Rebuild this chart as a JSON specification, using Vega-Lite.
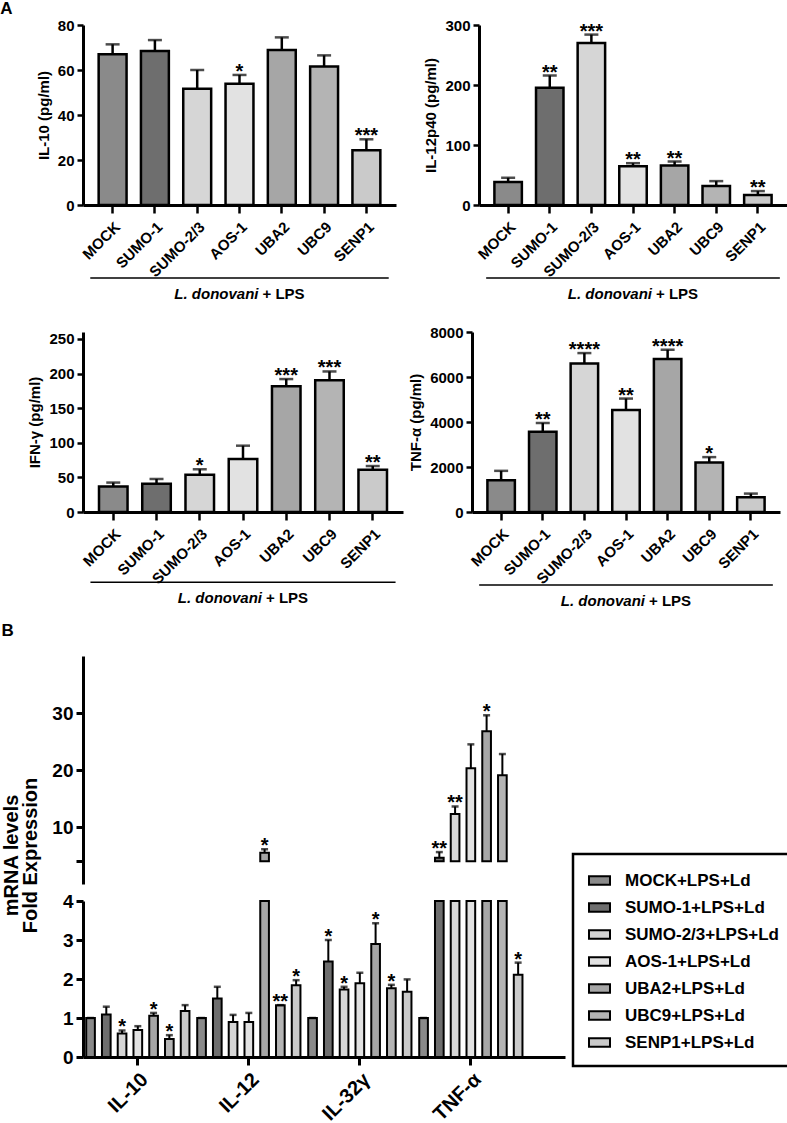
{
  "$schema": "https://vega.github.io/schema/vega-lite/v6.json",
  "background": "white",
  "padding": 0,
  "config": {
    "font": "Liberation Sans",
    "view": {"stroke": null},
    "axis": {"domainColor": "black", "domainWidth": 3, "tickColor": "black", "tickWidth": 2.5, "tickSize": 6, "labelColor": "black", "labelFontWeight": "bold", "labelFontSize": 15, "labelFont": "Liberation Sans", "titleFont": "Liberation Sans", "titleFontWeight": "bold", "titleFontSize": 15, "titleColor": "black", "grid": false, "labelPadding": 3, "titlePadding": 6, "labelOverlap": false},
    "axisX": {"tickSize": 8, "labelPadding": 6},
    "title": {"font": "Liberation Sans", "fontWeight": "bold", "color": "black"},
    "legend": {"strokeWidth": 2.5}
  },
  "datasets": {
    "a": [
      {"panel": "IL-10", "grp": "MOCK", "value": 67, "hi": 71.4, "sig": ""},
      {"panel": "IL-10", "grp": "SUMO-1", "value": 68.4, "hi": 73.3, "sig": ""},
      {"panel": "IL-10", "grp": "SUMO-2/3", "value": 51.7, "hi": 60, "sig": ""},
      {"panel": "IL-10", "grp": "AOS-1", "value": 53.9, "hi": 57.8, "sig": "*"},
      {"panel": "IL-10", "grp": "UBA2", "value": 68.9, "hi": 74.5, "sig": ""},
      {"panel": "IL-10", "grp": "UBC9", "value": 61.6, "hi": 66.5, "sig": ""},
      {"panel": "IL-10", "grp": "SENP1", "value": 24.3, "hi": 29.2, "sig": "***"},
      {"panel": "IL-12p40", "grp": "MOCK", "value": 38.2, "hi": 45.4, "sig": ""},
      {"panel": "IL-12p40", "grp": "SUMO-1", "value": 195.4, "hi": 215.8, "sig": "**"},
      {"panel": "IL-12p40", "grp": "SUMO-2/3", "value": 270, "hi": 284, "sig": "***"},
      {"panel": "IL-12p40", "grp": "AOS-1", "value": 64.7, "hi": 69.7, "sig": "**"},
      {"panel": "IL-12p40", "grp": "UBA2", "value": 65.9, "hi": 72.5, "sig": "**"},
      {"panel": "IL-12p40", "grp": "UBC9", "value": 31.5, "hi": 39.8, "sig": ""},
      {"panel": "IL-12p40", "grp": "SENP1", "value": 16.6, "hi": 23.2, "sig": "**"},
      {"panel": "IFN", "grp": "MOCK", "value": 36.9, "hi": 42.5, "sig": ""},
      {"panel": "IFN", "grp": "SUMO-1", "value": 40.7, "hi": 47.7, "sig": ""},
      {"panel": "IFN", "grp": "SUMO-2/3", "value": 53.7, "hi": 61.7, "sig": "*"},
      {"panel": "IFN", "grp": "AOS-1", "value": 76.6, "hi": 95.8, "sig": ""},
      {"panel": "IFN", "grp": "UBA2", "value": 181.8, "hi": 192, "sig": "***"},
      {"panel": "IFN", "grp": "UBC9", "value": 190.2, "hi": 203, "sig": "***"},
      {"panel": "IFN", "grp": "SENP1", "value": 61.2, "hi": 66.4, "sig": "**"},
      {"panel": "TNF", "grp": "MOCK", "value": 1413, "hi": 1829, "sig": ""},
      {"panel": "TNF", "grp": "SUMO-1", "value": 3569, "hi": 3955, "sig": "**"},
      {"panel": "TNF", "grp": "SUMO-2/3", "value": 6602, "hi": 7063, "sig": "****"},
      {"panel": "TNF", "grp": "AOS-1", "value": 4535, "hi": 5041, "sig": "**"},
      {"panel": "TNF", "grp": "UBA2", "value": 6796, "hi": 7212, "sig": "****"},
      {"panel": "TNF", "grp": "UBC9", "value": 2201, "hi": 2439, "sig": "*"},
      {"panel": "TNF", "grp": "SENP1", "value": 654, "hi": 818, "sig": ""}
    ],
    "b": [
      {"gene": "IL-10", "grp": "MOCK", "value": 1, "hi": 1, "sig": ""},
      {"gene": "IL-10", "grp": "SUMO-1", "value": 1.09, "hi": 1.29, "sig": ""},
      {"gene": "IL-10", "grp": "SUMO-2/3", "value": 0.6, "hi": 0.68, "sig": "*"},
      {"gene": "IL-10", "grp": "AOS-1", "value": 0.69, "hi": 0.79, "sig": ""},
      {"gene": "IL-10", "grp": "UBA2", "value": 1.06, "hi": 1.13, "sig": "*"},
      {"gene": "IL-10", "grp": "UBC9", "value": 0.46, "hi": 0.56, "sig": "*"},
      {"gene": "IL-10", "grp": "SENP1", "value": 1.18, "hi": 1.33, "sig": ""},
      {"gene": "IL-12", "grp": "MOCK", "value": 1, "hi": 1, "sig": ""},
      {"gene": "IL-12", "grp": "SUMO-1", "value": 1.5, "hi": 1.8, "sig": ""},
      {"gene": "IL-12", "grp": "SUMO-2/3", "value": 0.9, "hi": 1.08, "sig": ""},
      {"gene": "IL-12", "grp": "AOS-1", "value": 0.9, "hi": 1.13, "sig": ""},
      {"gene": "IL-12", "grp": "UBA2", "value": 5.5, "hi": 6.1, "sig": "*"},
      {"gene": "IL-12", "grp": "UBC9", "value": 1.33, "hi": 1.33, "sig": "**"},
      {"gene": "IL-12", "grp": "SENP1", "value": 1.84, "hi": 1.97, "sig": "*"},
      {"gene": "IL-32γ", "grp": "MOCK", "value": 1, "hi": 1, "sig": ""},
      {"gene": "IL-32γ", "grp": "SUMO-1", "value": 2.45, "hi": 3.0, "sig": "*"},
      {"gene": "IL-32γ", "grp": "SUMO-2/3", "value": 1.73, "hi": 1.8, "sig": "*"},
      {"gene": "IL-32γ", "grp": "AOS-1", "value": 1.89, "hi": 2.16, "sig": ""},
      {"gene": "IL-32γ", "grp": "UBA2", "value": 2.9, "hi": 3.43, "sig": "*"},
      {"gene": "IL-32γ", "grp": "UBC9", "value": 1.76, "hi": 1.85, "sig": "*"},
      {"gene": "IL-32γ", "grp": "SENP1", "value": 1.67, "hi": 1.99, "sig": ""},
      {"gene": "TNF-α", "grp": "MOCK", "value": 1, "hi": 1, "sig": ""},
      {"gene": "TNF-α", "grp": "SUMO-1", "value": 4.6, "hi": 5.6, "sig": "**"},
      {"gene": "TNF-α", "grp": "SUMO-2/3", "value": 12.3, "hi": 13.6, "sig": "**"},
      {"gene": "TNF-α", "grp": "AOS-1", "value": 20.3, "hi": 24.5, "sig": ""},
      {"gene": "TNF-α", "grp": "UBA2", "value": 26.8, "hi": 29.6, "sig": "*"},
      {"gene": "TNF-α", "grp": "UBC9", "value": 19.1, "hi": 22.8, "sig": ""},
      {"gene": "TNF-α", "grp": "SENP1", "value": 2.11, "hi": 2.42, "sig": "*"}
    ]
  },
  "vconcat": [
    {
      "vconcat": [
        {
          "hconcat": [
            {
              "width": 313, "height": 180,
              "title": {"text": "A", "anchor": "start", "frame": "bounds", "fontSize": 17, "offset": 0, "dx": -36},
              "layer": [
                {
                  "data": {"name": "a"},
                  "transform": [{"filter": "datum.panel == 'IL-10'"}],
                  "encoding": {"x": {"field": "grp", "type": "nominal", "sort": ["MOCK", "SUMO-1", "SUMO-2/3", "AOS-1", "UBA2", "UBC9", "SENP1"], "scale": {"paddingInner": 0.34, "paddingOuter": 0.37}, "axis": {"title": null, "labelAngle": -45}}},
                  "layer": [
                    {"mark": {"type": "bar", "stroke": "black", "strokeWidth": 2.5},
                     "encoding": {"y": {"field": "value", "type": "quantitative", "scale": {"domain": [0, 80]}, "axis": {"values": [0, 20, 40, 60, 80], "labelOverlap": false, "title": "IL-10 (pg/ml)"}},
                                  "fill": {"field": "grp", "type": "nominal", "scale": {"domain": ["MOCK", "SUMO-1", "SUMO-2/3", "AOS-1", "UBA2", "UBC9", "SENP1"], "range": ["#8a8a8a", "#6e6e6e", "#d6d6d6", "#e2e2e2", "#a6a6a6", "#b4b4b4", "#cacaca"]}}}},
                    {"mark": {"type": "rule", "color": "black", "strokeWidth": 2.5}, "encoding": {"y": {"field": "value", "type": "quantitative"}, "y2": {"field": "hi"}}},
                    {"mark": {"type": "tick", "color": "black", "thickness": 2.5, "size": 14}, "encoding": {"y": {"field": "hi", "type": "quantitative"}}},
                    {"mark": {"type": "text", "fontSize": 20, "fontWeight": "bold", "baseline": "alphabetic", "dy": 3}, "encoding": {"y": {"field": "hi", "type": "quantitative"}, "text": {"field": "sig"}}}
                  ]
                },
                {"data": {"values": [{"k": 1}]}, "mark": {"type": "rule", "color": "black", "strokeWidth": 1.5}, "encoding": {"x": {"datum": "MOCK", "bandPosition": -0.3}, "x2": {"datum": "SENP1", "bandPosition": 1.3}, "y": {"datum": -32.4, "axis": {"values": [0, 20, 40, 60, 80], "labelOverlap": false, "title": "IL-10 (pg/ml)"}}}},
                {"data": {"values": [{"k": 1}]}, "mark": {"type": "text", "fontSize": 15, "fontWeight": "bold", "fontStyle": "italic", "align": "right", "baseline": "middle", "dx": 19}, "encoding": {"x": {"datum": "AOS-1"}, "y": {"datum": -39.6, "axis": {"values": [0, 20, 40, 60, 80], "labelOverlap": false, "title": "IL-10 (pg/ml)"}}, "text": {"value": "L. donovani"}}},
                {"data": {"values": [{"k": 1}]}, "mark": {"type": "text", "fontSize": 15, "fontWeight": "bold", "align": "left", "baseline": "middle", "dx": 23}, "encoding": {"x": {"datum": "AOS-1"}, "y": {"datum": -39.6, "axis": {"values": [0, 20, 40, 60, 80], "labelOverlap": false, "title": "IL-10 (pg/ml)"}}, "text": {"value": "+ LPS"}}}
              ]
            },
            {
              "width": 308, "height": 180,
              "layer": [
                {
                  "data": {"name": "a"},
                  "transform": [{"filter": "datum.panel == 'IL-12p40'"}],
                  "encoding": {"x": {"field": "grp", "type": "nominal", "sort": ["MOCK", "SUMO-1", "SUMO-2/3", "AOS-1", "UBA2", "UBC9", "SENP1"], "scale": {"paddingInner": 0.34, "paddingOuter": 0.37}, "axis": {"title": null, "labelAngle": -45}}},
                  "layer": [
                    {"mark": {"type": "bar", "stroke": "black", "strokeWidth": 2.5},
                     "encoding": {"y": {"field": "value", "type": "quantitative", "scale": {"domain": [0, 300]}, "axis": {"values": [0, 100, 200, 300], "labelOverlap": false, "title": "IL-12p40 (pg/ml)"}},
                                  "fill": {"field": "grp", "type": "nominal", "scale": {"domain": ["MOCK", "SUMO-1", "SUMO-2/3", "AOS-1", "UBA2", "UBC9", "SENP1"], "range": ["#8a8a8a", "#6e6e6e", "#d6d6d6", "#e2e2e2", "#a6a6a6", "#b4b4b4", "#cacaca"]}}}},
                    {"mark": {"type": "rule", "color": "black", "strokeWidth": 2.5}, "encoding": {"y": {"field": "value", "type": "quantitative"}, "y2": {"field": "hi"}}},
                    {"mark": {"type": "tick", "color": "black", "thickness": 2.5, "size": 14}, "encoding": {"y": {"field": "hi", "type": "quantitative"}}},
                    {"mark": {"type": "text", "fontSize": 20, "fontWeight": "bold", "baseline": "alphabetic", "dy": 3}, "encoding": {"y": {"field": "hi", "type": "quantitative"}, "text": {"field": "sig"}}}
                  ]
                },
                {"data": {"values": [{"k": 1}]}, "mark": {"type": "rule", "color": "black", "strokeWidth": 1.5}, "encoding": {"x": {"datum": "MOCK", "bandPosition": -0.3}, "x2": {"datum": "SENP1", "bandPosition": 1.3}, "y": {"datum": -121.7, "axis": {"values": [0, 100, 200, 300], "labelOverlap": false, "title": "IL-12p40 (pg/ml)"}}}},
                {"data": {"values": [{"k": 1}]}, "mark": {"type": "text", "fontSize": 15, "fontWeight": "bold", "fontStyle": "italic", "align": "right", "baseline": "middle", "dx": 19}, "encoding": {"x": {"datum": "AOS-1"}, "y": {"datum": -148.3, "axis": {"values": [0, 100, 200, 300], "labelOverlap": false, "title": "IL-12p40 (pg/ml)"}}, "text": {"value": "L. donovani"}}},
                {"data": {"values": [{"k": 1}]}, "mark": {"type": "text", "fontSize": 15, "fontWeight": "bold", "align": "left", "baseline": "middle", "dx": 23}, "encoding": {"x": {"datum": "AOS-1"}, "y": {"datum": -148.3, "axis": {"values": [0, 100, 200, 300], "labelOverlap": false, "title": "IL-12p40 (pg/ml)"}}, "text": {"value": "+ LPS"}}}
              ]
            }
          ],
          "spacing": 27
        },
        {
          "hconcat": [
            {
              "width": 320, "height": 180,
              "layer": [
                {
                  "data": {"name": "a"},
                  "transform": [{"filter": "datum.panel == 'IFN'"}],
                  "encoding": {"x": {"field": "grp", "type": "nominal", "sort": ["MOCK", "SUMO-1", "SUMO-2/3", "AOS-1", "UBA2", "UBC9", "SENP1"], "scale": {"paddingInner": 0.34, "paddingOuter": 0.37}, "axis": {"title": null, "labelAngle": -45}}},
                  "layer": [
                    {"mark": {"type": "bar", "stroke": "black", "strokeWidth": 2.5},
                     "encoding": {"y": {"field": "value", "type": "quantitative", "scale": {"domain": [0, 250]}, "axis": {"values": [0, 50, 100, 150, 200, 250], "labelOverlap": false, "tickCount": 6, "title": "IFN-γ (pg/ml)"}},
                                  "fill": {"field": "grp", "type": "nominal", "scale": {"domain": ["MOCK", "SUMO-1", "SUMO-2/3", "AOS-1", "UBA2", "UBC9", "SENP1"], "range": ["#8a8a8a", "#6e6e6e", "#d6d6d6", "#e2e2e2", "#a6a6a6", "#b4b4b4", "#cacaca"]}}}},
                    {"mark": {"type": "rule", "color": "black", "strokeWidth": 2.5}, "encoding": {"y": {"field": "value", "type": "quantitative"}, "y2": {"field": "hi"}}},
                    {"mark": {"type": "tick", "color": "black", "thickness": 2.5, "size": 14}, "encoding": {"y": {"field": "hi", "type": "quantitative"}}},
                    {"mark": {"type": "text", "fontSize": 20, "fontWeight": "bold", "baseline": "alphabetic", "dy": 3}, "encoding": {"y": {"field": "hi", "type": "quantitative"}, "text": {"field": "sig"}}}
                  ]
                },
                {"data": {"values": [{"k": 1}]}, "mark": {"type": "rule", "color": "black", "strokeWidth": 1.5}, "encoding": {"x": {"datum": "MOCK", "bandPosition": -0.3}, "x2": {"datum": "SENP1", "bandPosition": 1.3}, "y": {"datum": -101.4, "axis": {"values": [0, 50, 100, 150, 200, 250], "labelOverlap": false, "tickCount": 6, "title": "IFN-γ (pg/ml)"}}}},
                {"data": {"values": [{"k": 1}]}, "mark": {"type": "text", "fontSize": 15, "fontWeight": "bold", "fontStyle": "italic", "align": "right", "baseline": "middle", "dx": 19}, "encoding": {"x": {"datum": "AOS-1"}, "y": {"datum": -123.6, "axis": {"values": [0, 50, 100, 150, 200, 250], "labelOverlap": false, "tickCount": 6, "title": "IFN-γ (pg/ml)"}}, "text": {"value": "L. donovani"}}},
                {"data": {"values": [{"k": 1}]}, "mark": {"type": "text", "fontSize": 15, "fontWeight": "bold", "align": "left", "baseline": "middle", "dx": 23}, "encoding": {"x": {"datum": "AOS-1"}, "y": {"datum": -123.6, "axis": {"values": [0, 50, 100, 150, 200, 250], "labelOverlap": false, "tickCount": 6, "title": "IFN-γ (pg/ml)"}}, "text": {"value": "+ LPS"}}}
              ]
            },
            {
              "width": 308, "height": 180,
              "layer": [
                {
                  "data": {"name": "a"},
                  "transform": [{"filter": "datum.panel == 'TNF'"}],
                  "encoding": {"x": {"field": "grp", "type": "nominal", "sort": ["MOCK", "SUMO-1", "SUMO-2/3", "AOS-1", "UBA2", "UBC9", "SENP1"], "scale": {"paddingInner": 0.34, "paddingOuter": 0.37}, "axis": {"title": null, "labelAngle": -45}}},
                  "layer": [
                    {"mark": {"type": "bar", "stroke": "black", "strokeWidth": 2.5},
                     "encoding": {"y": {"field": "value", "type": "quantitative", "scale": {"domain": [0, 8000]}, "axis": {"values": [0, 2000, 4000, 6000, 8000], "labelOverlap": false, "format": "d", "title": "TNF-α (pg/ml)"}},
                                  "fill": {"field": "grp", "type": "nominal", "scale": {"domain": ["MOCK", "SUMO-1", "SUMO-2/3", "AOS-1", "UBA2", "UBC9", "SENP1"], "range": ["#8a8a8a", "#6e6e6e", "#d6d6d6", "#e2e2e2", "#a6a6a6", "#b4b4b4", "#cacaca"]}}}},
                    {"mark": {"type": "rule", "color": "black", "strokeWidth": 2.5}, "encoding": {"y": {"field": "value", "type": "quantitative"}, "y2": {"field": "hi"}}},
                    {"mark": {"type": "tick", "color": "black", "thickness": 2.5, "size": 14}, "encoding": {"y": {"field": "hi", "type": "quantitative"}}},
                    {"mark": {"type": "text", "fontSize": 20, "fontWeight": "bold", "baseline": "alphabetic", "dy": 3}, "encoding": {"y": {"field": "hi", "type": "quantitative"}, "text": {"field": "sig"}}}
                  ]
                },
                {"data": {"values": [{"k": 1}]}, "mark": {"type": "rule", "color": "black", "strokeWidth": 1.5}, "encoding": {"x": {"datum": "MOCK", "bandPosition": -0.3}, "x2": {"datum": "SENP1", "bandPosition": 1.3}, "y": {"datum": -3244, "axis": {"values": [0, 2000, 4000, 6000, 8000], "labelOverlap": false, "format": "d", "title": "TNF-α (pg/ml)"}}}},
                {"data": {"values": [{"k": 1}]}, "mark": {"type": "text", "fontSize": 15, "fontWeight": "bold", "fontStyle": "italic", "align": "right", "baseline": "middle", "dx": 19}, "encoding": {"x": {"datum": "AOS-1"}, "y": {"datum": -3956, "axis": {"values": [0, 2000, 4000, 6000, 8000], "labelOverlap": false, "format": "d", "title": "TNF-α (pg/ml)"}}, "text": {"value": "L. donovani"}}},
                {"data": {"values": [{"k": 1}]}, "mark": {"type": "text", "fontSize": 15, "fontWeight": "bold", "align": "left", "baseline": "middle", "dx": 23}, "encoding": {"x": {"datum": "AOS-1"}, "y": {"datum": -3956, "axis": {"values": [0, 2000, 4000, 6000, 8000], "labelOverlap": false, "format": "d", "title": "TNF-α (pg/ml)"}}, "text": {"value": "+ LPS"}}}
              ]
            }
          ],
          "spacing": 5
        }
      ],
      "spacing": 22
    },
    {
      "width": 482, "height": 401,
      "title": {"text": "B", "anchor": "start", "frame": "bounds", "fontSize": 17, "offset": 16, "dx": 0},
      "data": {"name": "b"},
      "encoding": {
        "x": {"field": "gene", "type": "nominal", "sort": ["IL-10", "IL-12", "IL-32γ", "TNF-α"], "scale": {"paddingInner": 0.07, "paddingOuter": 0.206, "align": 0.07}, "axis": {"title": null, "labelAngle": -45, "labelFontSize": 20, "tickSize": 8, "tickWidth": 3, "domainWidth": 3, "labelPadding": 4}},
        "xOffset": {"field": "grp", "type": "nominal", "sort": ["MOCK", "SUMO-1", "SUMO-2/3", "AOS-1", "UBA2", "UBC9", "SENP1"], "scale": {"paddingInner": 0.45}}
      },
      "layer": [
        {
          "layer": [
            {"mark": {"type": "bar", "stroke": "black", "strokeWidth": 2},
             "encoding": {
               "y": {"field": "value", "type": "quantitative", "scale": {"domain": [0, 4], "range": [401, 245], "clamp": true}, "axis": {"values": [0, 1, 2, 3, 4], "format": "d", "labelFontSize": 19, "title": ["mRNA levels", "Fold Expression"], "titleFontSize": 20, "titleLineHeight": 19, "titleY": 199, "titlePadding": 22, "domainWidth": 3, "tickWidth": 3, "tickSize": 7}},
               "fill": {"field": "grp", "type": "nominal", "scale": {"domain": ["MOCK", "SUMO-1", "SUMO-2/3", "AOS-1", "UBA2", "UBC9", "SENP1"], "range": ["#8a8a8a", "#6e6e6e", "#d6d6d6", "#e2e2e2", "#a6a6a6", "#b4b4b4", "#cacaca"]},
                        "legend": {"orient": "none", "legendX": 490, "legendY": 829, "title": null, "strokeColor": "black", "padding": 15, "rowPadding": 7, "symbolType": "M-1,-0.4H1V0.4H-1Z", "symbolSize": 441, "symbolStrokeColor": "black", "symbolStrokeWidth": 2, "symbolOpacity": 1, "labelFontSize": 17, "labelFontWeight": "bold", "labelColor": "black", "labelOffset": 14, "labelExpr": "datum.label + '+LPS+Ld'"}}
             }},
            {"transform": [{"filter": "datum.hi <= 4"}], "mark": {"type": "rule", "color": "black", "strokeWidth": 2}, "encoding": {"y": {"field": "value", "type": "quantitative"}, "y2": {"field": "hi"}}},
            {"transform": [{"filter": "datum.hi <= 4"}], "mark": {"type": "tick", "color": "black", "thickness": 2.5, "size": 7}, "encoding": {"y": {"field": "hi", "type": "quantitative"}}},
            {"transform": [{"filter": "datum.hi <= 4"}], "mark": {"type": "text", "fontSize": 20, "fontWeight": "bold", "baseline": "alphabetic", "dy": 3}, "encoding": {"y": {"field": "hi", "type": "quantitative"}, "text": {"field": "sig"}}}
          ]
        },
        {
          "transform": [{"filter": "datum.value > 4"}],
          "layer": [
            {"mark": {"type": "bar", "stroke": "black", "strokeWidth": 2},
             "encoding": {
               "y": {"field": "value", "type": "quantitative", "scale": {"domain": [4, 35.4], "range": [228, 0]}, "axis": {"orient": "left", "values": [4, 10, 20, 30], "labelExpr": "datum.value == 4 ? '' : datum.label", "labelFontSize": 19, "title": null, "domainWidth": 3, "tickWidth": 3, "tickSize": 7}},
               "y2": {"datum": 4},
               "fill": {"field": "grp", "type": "nominal", "scale": {"domain": ["MOCK", "SUMO-1", "SUMO-2/3", "AOS-1", "UBA2", "UBC9", "SENP1"], "range": ["#8a8a8a", "#6e6e6e", "#d6d6d6", "#e2e2e2", "#a6a6a6", "#b4b4b4", "#cacaca"]}}
             }},
            {"mark": {"type": "rule", "color": "black", "strokeWidth": 2}, "encoding": {"y": {"field": "value", "type": "quantitative"}, "y2": {"field": "hi"}}},
            {"mark": {"type": "tick", "color": "black", "thickness": 2.5, "size": 7}, "encoding": {"y": {"field": "hi", "type": "quantitative"}}},
            {"mark": {"type": "text", "fontSize": 20, "fontWeight": "bold", "baseline": "alphabetic", "dy": 3}, "encoding": {"y": {"field": "hi", "type": "quantitative"}, "text": {"field": "sig"}}}
          ]
        }
      ],
      "resolve": {"scale": {"y": "independent"}, "axis": {"y": "independent"}}
    }
  ],
  "spacing": 12
}
